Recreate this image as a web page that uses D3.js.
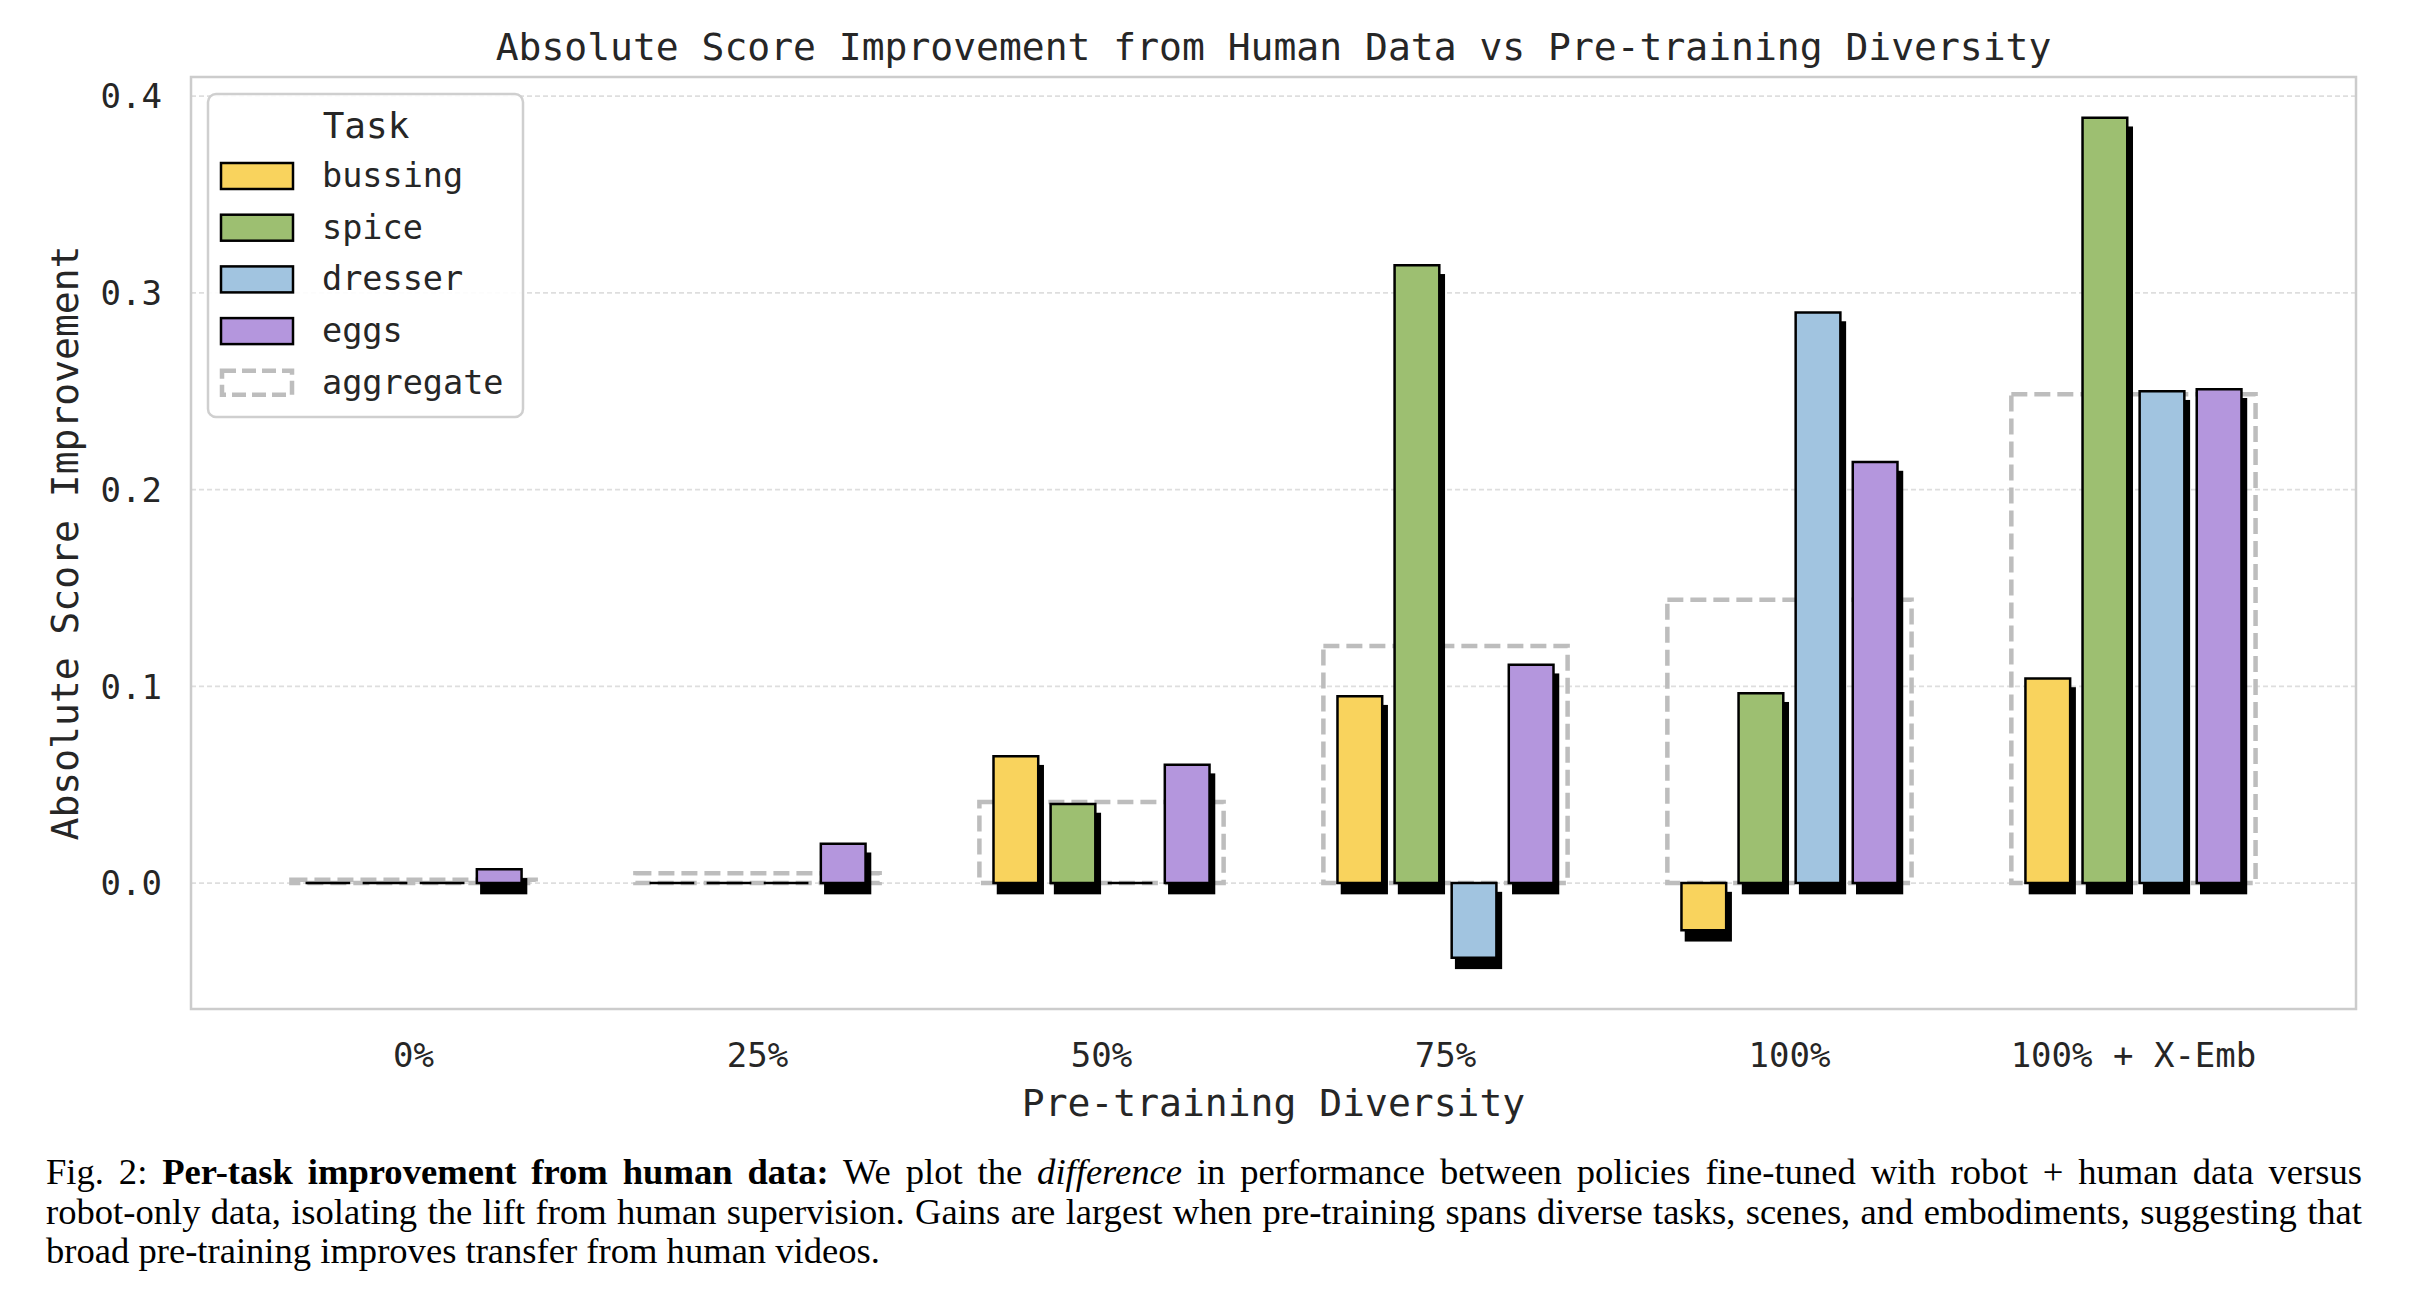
<!DOCTYPE html>
<html>
<head>
<meta charset="utf-8">
<script src="https://cdn.jsdelivr.net/npm/d3@7"></script>
<style>
  html, body { margin: 0; padding: 0; background: #fff; }
  #wrap { position: relative; width: 2416px; height: 1293px; overflow: hidden; }
  svg { position: absolute; left: 0; top: 0; }
  .cap { position: absolute; left: 46px; width: 2316px; font-family: "Liberation Serif", "Times New Roman", serif;
         font-size: 36.6px; color: #000; white-space: nowrap; line-height: 40px; }
  .just { text-align: justify; text-align-last: justify; white-space: normal; }
</style>
</head>
<body>
<div id="wrap">
<svg id="chart" width="2416" height="1293"></svg>
<div class="cap just" id="cap1" style="top:1152px;">Fig. 2: <b>Per-task improvement from human data:</b> We plot the <i>difference</i> in performance between policies fine-tuned with robot + human data versus</div>
<div class="cap just" id="cap2" style="top:1192px;">robot-only data, isolating the lift from human supervision. Gains are largest when pre-training spans diverse tasks, scenes, and embodiments, suggesting that</div>
<div class="cap" id="cap3" style="top:1231px;">broad pre-training improves transfer from human videos.</div>
</div>
<script>
// ---- data ----
const categories = ["0%", "25%", "50%", "75%", "100%", "100% + X-Emb"];
const tasks = ["bussing", "spice", "dresser", "eggs"];
const taskColors = ["#F9D35D", "#9DBF71", "#A1C4E0", "#B496DD"];
const bussing = [0, 0, 0.0645, 0.095, -0.024, 0.104];
const spice   = [0, 0, 0.0402, 0.314, 0.0965, 0.389];
const dresser = [0, 0, 0, -0.038, 0.290, 0.250];
const eggs    = [0.007, 0.020, 0.0602, 0.111, 0.214, 0.251];
const aggregate = [0.00175, 0.005, 0.0412, 0.1205, 0.144, 0.2485];
const yTicks = [0.0, 0.1, 0.2, 0.3, 0.4];
const yTickLabels = ["0.0", "0.1", "0.2", "0.3", "0.4"];
const series = [bussing, spice, dresser, eggs];

(function () {
// ---- layout ----
const MONO = "'DejaVu Sans Mono', monospace";
const TXT = "#262626";
const pL = 191, pR = 2356, pT = 77, pB = 1009;
const x = d3.scaleLinear().domain([-0.647, categories.length - 1 + 0.647]).range([pL, pR]);
const y = d3.scaleLinear().domain([-0.064, 0.4097]).range([pB, pT]);
const pitch = 0.166, barW = 0.13, aggW = 0.71;
const shadowDx = 4.5, shadowDy = 10, barLW = 2.5;

const svg = d3.select("#chart");

// grid
svg.append("g").selectAll("line").data(yTicks).join("line")
  .attr("x1", pL).attr("x2", pR)
  .attr("y1", d => y(d)).attr("y2", d => y(d))
  .attr("stroke", "#dedede").attr("stroke-width", 1.6).attr("stroke-dasharray", "5,3");

// aggregate boxes
svg.append("g").selectAll("rect").data(aggregate).join("rect")
  .attr("x", (d, i) => x(i - aggW / 2))
  .attr("width", x(aggW) - x(0))
  .attr("y", d => y(Math.max(0, d)))
  .attr("height", d => Math.abs(y(d) - y(0)))
  .attr("fill", "none").attr("stroke", "#bdbdbd").attr("stroke-width", 4.5)
  .attr("stroke-dasharray", "16,7");

// bars
function barPath(x0, x1, ya, yb) {
  const p = d3.path();
  p.moveTo(x0, ya); p.lineTo(x1, ya); p.lineTo(x1, yb); p.lineTo(x0, yb); p.closePath();
  return p.toString();
}
series.forEach((vals, j) => {
  const g = svg.append("g");
  vals.forEach((v, i) => {
    const cx = i + (j - 1.5) * pitch;
    const x0 = x(cx - barW / 2), x1 = x(cx + barW / 2);
    const ya = y(Math.max(0, v)), yb = y(Math.min(0, v));
    if (v !== 0) {
      g.append("rect")
        .attr("x", x0 - barLW / 2 + shadowDx).attr("y", ya - barLW / 2 + shadowDy)
        .attr("width", x1 - x0 + barLW).attr("height", yb - ya + barLW)
        .attr("fill", "#000");
    }
    g.append("path").attr("d", barPath(x0, x1, ya, yb))
      .attr("fill", taskColors[j]).attr("stroke", "#000").attr("stroke-width", barLW)
      .attr("stroke-linejoin", "miter");
  });
});

// frame
svg.append("rect").attr("x", pL).attr("y", pT).attr("width", pR - pL).attr("height", pB - pT)
  .attr("fill", "none").attr("stroke", "#cccccc").attr("stroke-width", 2.5);

// y ticks
svg.append("g").selectAll("text").data(yTicks).join("text")
  .attr("x", 162).attr("y", d => y(d)).attr("dy", "0.36em")
  .attr("text-anchor", "end").attr("font-family", MONO).attr("font-size", 34).attr("fill", TXT)
  .text((d, i) => yTickLabels[i]);

// x ticks
svg.append("g").selectAll("text").data(categories).join("text")
  .attr("x", (d, i) => x(i)).attr("y", 1067)
  .attr("text-anchor", "middle").attr("font-family", MONO).attr("font-size", 34).attr("fill", TXT)
  .text(d => d);

// titles
svg.append("text").attr("x", (pL + pR) / 2).attr("y", 60).attr("text-anchor", "middle")
  .attr("font-family", MONO).attr("font-size", 38).attr("fill", TXT)
  .text("Absolute Score Improvement from Human Data vs Pre-training Diversity");
svg.append("text").attr("x", (pL + pR) / 2).attr("y", 1116).attr("text-anchor", "middle")
  .attr("font-family", MONO).attr("font-size", 38).attr("fill", TXT)
  .text("Pre-training Diversity");
svg.append("text").attr("transform", `translate(78,${(pT + pB) / 2}) rotate(-90)`)
  .attr("text-anchor", "middle")
  .attr("font-family", MONO).attr("font-size", 38).attr("fill", TXT)
  .text("Absolute Score Improvement");

// legend
const lg = svg.append("g");
lg.append("rect").attr("x", 208).attr("y", 94).attr("width", 315).attr("height", 323).attr("rx", 8)
  .attr("fill", "#fff").attr("fill-opacity", 0.9).attr("stroke", "#cfcfcf").attr("stroke-width", 2.5);
lg.append("text").attr("x", 366).attr("y", 138).attr("text-anchor", "middle")
  .attr("font-family", MONO).attr("font-size", 36).attr("fill", TXT).text("Task");
const legItems = tasks.concat(["aggregate"]);
legItems.forEach((name, k) => {
  const cy = 176 + k * 51.7;
  if (k < tasks.length) {
    lg.append("rect").attr("x", 221).attr("y", cy - 13).attr("width", 72).attr("height", 26)
      .attr("fill", taskColors[k]).attr("stroke", "#000").attr("stroke-width", 2.5);
  } else {
    lg.append("rect").attr("x", 222).attr("y", cy - 12).attr("width", 70).attr("height", 24)
      .attr("fill", "none").attr("stroke", "#bdbdbd").attr("stroke-width", 4.5).attr("stroke-dasharray", "14,6");
  }
  lg.append("text").attr("x", 322).attr("y", cy + 11)
    .attr("font-family", MONO).attr("font-size", 33.5).attr("fill", TXT).text(name);
});
})();
</script>
</body>
</html>
